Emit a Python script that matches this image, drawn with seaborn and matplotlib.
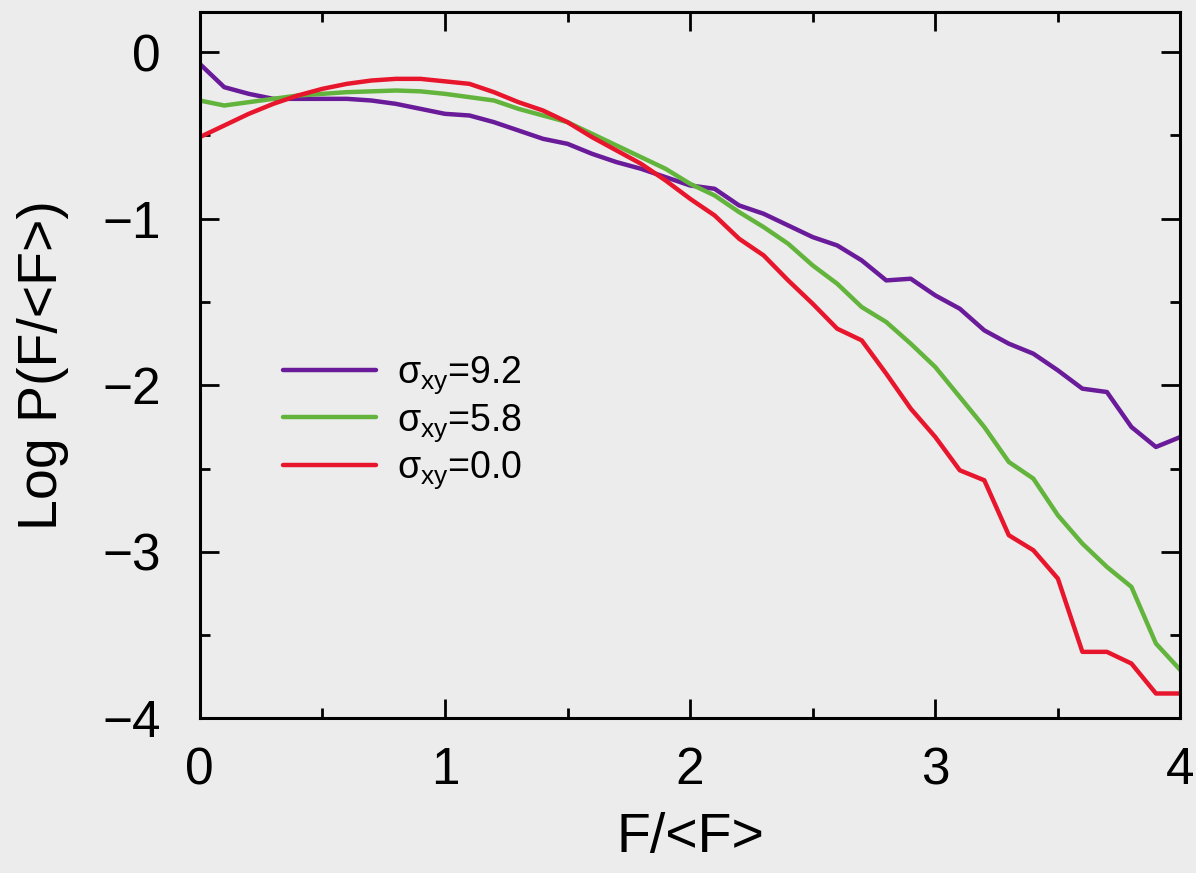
import numpy as np
import pandas as pd
import seaborn as sns
import matplotlib.pyplot as plt
from matplotlib.ticker import MultipleLocator

# values, x = 0.0 ... 4.0 in steps of 0.1
f_ratio = [round(0.1 * i, 1) for i in range(41)]

logp_sigma_92 = [-0.07, -0.21, -0.25, -0.28, -0.28, -0.28, -0.28, -0.29, -0.31, -0.34,
                 -0.37, -0.38, -0.42, -0.47, -0.52, -0.55, -0.61, -0.66, -0.70, -0.75,
                 -0.80, -0.82, -0.92, -0.97, -1.04, -1.11, -1.16, -1.25, -1.37, -1.36,
                 -1.46, -1.54, -1.67, -1.75, -1.81, -1.91, -2.02, -2.04, -2.25, -2.37,
                 -2.31]

logp_sigma_58 = [-0.29, -0.32, -0.30, -0.28, -0.26, -0.25, -0.24, -0.235, -0.23, -0.235,
                 -0.25, -0.27, -0.29, -0.34, -0.38, -0.42, -0.49, -0.56, -0.63, -0.70,
                 -0.79, -0.86, -0.96, -1.05, -1.15, -1.28, -1.39, -1.53, -1.62, -1.75,
                 -1.89, -2.07, -2.25, -2.46, -2.56, -2.78, -2.95, -3.09, -3.21, -3.55,
                 -3.71]

logp_sigma_00 = [-0.51, -0.44, -0.37, -0.31, -0.26, -0.22, -0.19, -0.17, -0.16, -0.16,
                 -0.175, -0.19, -0.24, -0.30, -0.35, -0.42, -0.51, -0.59, -0.67, -0.77,
                 -0.88, -0.98, -1.12, -1.22, -1.37, -1.51, -1.66, -1.73, -1.93, -2.14,
                 -2.31, -2.51, -2.57, -2.90, -2.99, -3.16, -3.60, -3.60, -3.67, -3.85,
                 -3.85]

labels = ["σ$_\\mathrm{xy}$=9.2", "σ$_\\mathrm{xy}$=5.8", "σ$_\\mathrm{xy}$=0.0"]
colors = ["#6a1b9a", "#62b43c", "#e8162c"]

df = pd.concat([
    pd.DataFrame({"F": f_ratio, "logP": vals, "series": lab})
    for vals, lab in zip([logp_sigma_92, logp_sigma_58, logp_sigma_00], labels)
])

sns.set_theme(style="ticks")
plt.rcParams["font.family"] = ["Liberation Sans", "DejaVu Sans"]
plt.rcParams["mathtext.fontset"] = "custom"
plt.rcParams["mathtext.rm"] = "Liberation Sans"
plt.rcParams["mathtext.it"] = "Liberation Sans:italic"
plt.rcParams["text.color"] = "black"
plt.rcParams["axes.labelcolor"] = "black"

bg = "#ececec"
fig = plt.figure(figsize=(11.96, 8.73), dpi=100, facecolor=bg)
ax = fig.add_axes([0.167, 0.177, 0.82, 0.809])
ax.set_facecolor(bg)

sns.lineplot(data=df, x="F", y="logP", hue="series", hue_order=labels,
             palette=dict(zip(labels, colors)), linewidth=3.2, ax=ax)

ax.set_xlim(0, 4)
ax.set_ylim(-4, 0.24)
ax.xaxis.set_major_locator(MultipleLocator(1))
ax.xaxis.set_minor_locator(MultipleLocator(0.5))
ax.yaxis.set_major_locator(MultipleLocator(1))
ax.yaxis.set_minor_locator(MultipleLocator(0.5))
ax.tick_params(which="both", direction="in", top=True, right=True,
               width=2, colors="black", labelsize=37)
ax.tick_params(axis="x", which="both", pad=20)
ax.tick_params(axis="y", which="both", pad=28)
ax.tick_params(which="major", length=14)
ax.tick_params(which="minor", length=7)
for sp in ax.spines.values():
    sp.set_linewidth(2.2)
    sp.set_color("black")

ax.set_xlabel("F/<F>", fontsize=40, labelpad=12)
ax.set_ylabel("Log P(F/<F>)", fontsize=40, labelpad=24)

ax.legend(loc="upper left", bbox_to_anchor=(0.05, 0.563), frameon=False,
          fontsize=27, handlelength=2.5, handletextpad=0.56, labelspacing=0.15)

fig.savefig("out.png", dpi=100, facecolor=bg)
